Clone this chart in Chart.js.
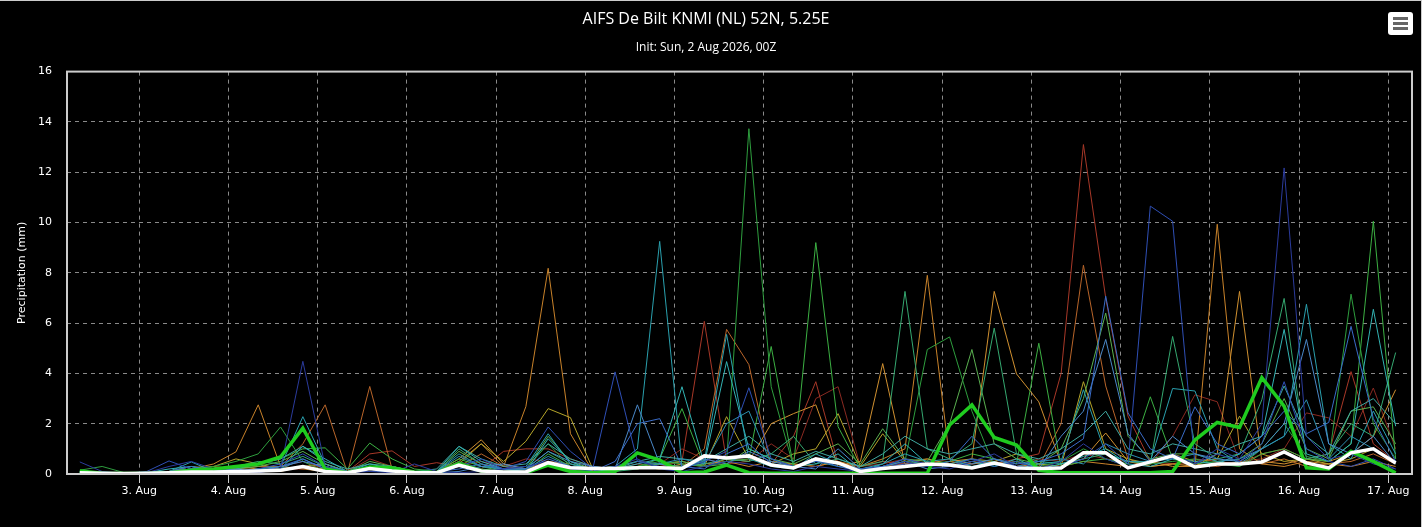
<!DOCTYPE html>
<html>
<head>
<meta charset="utf-8">
<script src="https://cdn.jsdelivr.net/npm/chart.js@4"></script>
<style>
  body { margin: 0; background: #fff; }
  #wrap { position: relative; width: 1421px; height: 526px; background: #000;
          border-top: 1px solid #ccc; border-right: 1px solid #ccc; }
  #menu { position: absolute; left: 1388px; top: 11px; width: 25px; height: 23px;
          background: #fff; border-radius: 3px; }
  #menu span { position: absolute; left: 5px; width: 15px; height: 3px; background: #666; }
</style>
</head>
<body>
<div id="wrap">
  <canvas id="precipChart" width="1421" height="526"></canvas>
  <div id="menu"><span style="top:5px"></span><span style="top:10px"></span><span style="top:15px"></span></div>
</div>
<script>
// hours since 3 Aug 00:00 local (UTC+2), 6-hourly steps
const hours = [-16,-10,-4,2,8,14,20,26,32,38,44,50,56,62,68,74,80,86,92,98,
  104,110,116,122,128,134,140,146,152,158,164,170,176,182,188,194,200,206,212,218,
  224,230,236,242,248,254,260,266,272,278,284,290,296,302,308,314,320,326,332,338];
const tickHours = [0,24,48,72,96,120,144,168,192,216,240,264,288,312,336];
const dayLabels = ["3. Aug","4. Aug","5. Aug","6. Aug","7. Aug","8. Aug","9. Aug","10. Aug",
  "11. Aug","12. Aug","13. Aug","14. Aug","15. Aug","16. Aug","17. Aug"];
const yTicks = [0,2,4,6,8,10,12,14,16];

// ensemble members (mm / 6h)
const m01 = [0.48,0.1,0.02,0.05,0.3,0.5,0.2,0.1,0.05,0.2, 4.48,0.3,0.05,0.1,0.05,0.4,0.1,0.05,0.1,0.2,
  0.3,0.5,0.2,0.1,0.3,0.6,0.2,0.1,0.3,0.5, 0.4,0.2,0.1,0.3,0.2,0.1,0.2,0.5,0.3,0.2,
  0.5,0.8,0.3,0.2,0.5,1.2,0.6,0.3,0.5,0.8, 0.4,1.0,0.6,2.0,12.17,1.5,0.6,0.8,0.4,0.2];
const m02 = [0.02,0.02,0.02,0.1,0.52,0.2,0.05,0.1,0.2,0.4, 0.8,0.3,0.1,0.2,0.3,0.1,0.05,0.3,0.6,0.2,
  0.5,1.87,0.9,0.2,4.06,0.5,0.3,0.2,0.5,0.9, 3.43,0.6,0.3,0.5,0.4,0.2,0.3,0.6,0.4,0.3,
  0.6,0.3,0.5,0.2,0.3,0.6,1.2,0.4,10.65,10.05, 0.4,0.8,0.5,1.2,3.67,1.0,0.5,0.3,0.6,0.2];
const m03 = [0.05,0.05,0.02,0.05,0.1,0.3,0.1,0.05,0.1,0.3, 0.6,0.2,0.1,0.1,0.2,0.05,0.1,0.2,0.4,0.2,
  0.2,0.6,0.3,0.1,0.5,2.0,2.2,0.3,0.2,0.8, 1.2,0.4,0.2,0.6,0.3,0.1,0.2,0.4,0.3,0.5,
  1.5,0.6,0.4,0.5,0.8,1.4,7.07,2.43,1.0,0.6, 2.67,1.2,0.8,1.5,2.5,1.6,2.05,5.87,2.2,0.5];
const m04 = [0.1,0.05,0.02,0.02,0.05,0.2,0.1,0.2,0.1,0.3, 0.5,0.3,0.1,0.1,0.1,0.1,0.05,0.1,0.3,0.4,
  0.2,0.9,0.5,0.3,0.2,2.75,0.4,0.2,0.6,0.4, 0.9,0.5,0.3,0.2,1.0,0.2,0.3,0.5,0.2,0.3,
  0.4,0.6,0.3,0.2,1.5,2.5,5.35,1.6,0.5,1.5, 0.8,0.6,0.5,1.0,2.0,5.35,1.2,0.8,1.5,0.4];
const m05 = [0.05,0.05,0.02,0.05,0.1,0.48,0.1,0.1,0.2,0.3, 2.28,0.4,0.1,0.3,0.2,0.1,0.1,0.8,0.3,0.2,
  0.3,1.6,0.4,0.2,0.3,1.0,9.25,0.3,0.5,5.55, 0.6,0.3,0.2,0.8,0.4,0.2,0.4,0.8,0.5,0.6,
  0.3,0.5,0.2,0.4,0.5,3.35,0.8,0.5,0.5,3.4, 3.3,1.0,0.4,1.0,1.5,6.75,1.2,0.6,2.5,0.8];
const m06 = [0.02,0.02,0.02,0.05,0.2,0.3,0.1,0.1,0.1,0.2, 1.1,0.6,0.1,0.4,0.2,0.1,0.1,1.1,0.5,0.2,
  0.1,1.4,0.5,0.1,0.2,0.4,0.6,3.47,0.4,4.47, 1.0,0.6,0.3,0.4,0.8,0.1,0.4,1.2,0.4,0.3,
  0.5,0.3,0.6,0.2,0.4,0.7,1.0,0.4,0.3,0.6, 0.5,0.4,0.8,1.5,5.75,0.8,0.5,1.2,6.55,1.9];
const m07 = [0.15,0.3,0.05,0.02,0.05,0.2,0.3,0.5,0.8,1.87, 0.5,0.1,0.05,0.2,0.1,0.05,0.1,0.5,0.2,0.1,
  0.2,1.2,0.3,0.1,0.2,0.3,0.5,0.4,0.3,0.5, 13.73,3.47,0.3,0.5,0.4,0.2,0.3,0.5,4.95,5.45,
  2.5,0.3,0.5,0.3,0.5,1.0,0.6,0.3,0.4,0.5, 0.6,0.4,0.3,1.0,2.0,0.7,0.5,7.15,2.0,0.6];
const m08 = [0.02,0.02,0.02,0.02,0.1,0.2,0.1,0.3,0.4,0.6, 1.0,1.04,0.2,1.23,0.6,0.2,0.1,0.6,0.3,0.1,
  0.1,0.8,0.3,0.1,0.2,0.3,0.6,2.6,0.3,0.5, 0.6,5.07,0.3,9.2,1.88,0.2,0.3,0.5,0.4,0.5,
  0.8,0.6,0.4,5.2,0.3,0.5,0.6,0.4,3.07,0.6, 0.4,0.5,0.3,0.8,1.0,0.6,0.5,1.2,10.05,0.6];
const m09 = [0.05,0.05,0.02,0.02,0.05,0.1,0.2,0.3,0.5,0.4, 0.7,0.3,0.1,0.3,0.2,0.1,0.05,1.0,0.4,0.1,
  0.2,0.9,0.4,0.1,0.1,0.2,0.4,0.3,0.4,0.6, 0.5,0.8,1.5,0.4,0.6,0.3,0.5,7.26,1.0,0.6,
  1.2,5.8,0.8,0.5,0.4,0.6,0.8,0.5,0.4,5.47, 1.2,0.6,0.8,2.95,6.98,0.6,0.8,2.0,1.5,4.83];
const m10 = [0.1,0.05,0.02,0.02,0.1,0.3,0.2,0.2,0.3,0.5, 0.9,0.4,0.1,0.5,0.3,0.1,0.1,0.9,0.4,0.2,
  0.2,1.5,0.5,0.2,0.1,0.3,0.4,0.5,0.3,0.4, 1.0,0.6,0.4,0.8,1.2,0.4,1.8,0.6,0.5,2.0,
  4.95,1.2,0.6,0.4,1.0,3.0,6.4,1.5,0.6,0.8, 0.8,0.5,0.6,1.2,3.0,1.0,0.6,2.5,2.67,1.2];
const m12 = [0.02,0.02,0.02,0.05,0.1,0.2,0.4,0.88,2.75,0.3, 0.2,0.1,0.05,0.3,0.2,0.1,0.1,0.5,1.2,0.3,
  2.68,8.18,1.6,0.1,0.2,0.3,0.2,0.3,0.4,0.5, 0.3,0.5,0.4,0.3,0.5,0.3,0.6,1.0,7.9,0.6,
  0.4,0.5,0.3,0.4,0.3,0.5,0.4,0.3,0.5,0.3, 0.3,9.93,1.0,0.4,0.3,0.5,0.4,0.3,0.5,0.3];
const m13 = [0.02,0.02,0.02,0.02,0.1,0.2,0.3,0.2,0.3,0.3, 1.2,2.75,0.05,3.48,0.2,0.1,0.05,0.3,0.8,0.3,
  0.2,0.5,0.4,0.2,0.3,0.2,0.4,0.3,1.0,5.75, 4.35,0.3,0.4,0.3,0.5,0.2,0.3,0.4,0.3,0.5,
  0.3,0.4,0.5,0.3,2.0,8.3,3.5,0.6,0.3,0.4, 0.4,0.3,0.5,0.4,0.6,0.3,0.4,0.5,0.8,0.4];
const m14 = [0.02,0.02,0.02,0.05,0.1,0.1,0.2,0.3,0.2,0.1, 0.3,0.4,0.1,0.2,0.2,0.05,0.1,0.6,1.36,0.4,
  0.2,0.3,0.2,0.1,0.2,0.3,0.2,0.4,0.3,0.6, 0.5,2.0,2.4,2.75,0.3,0.5,4.39,0.4,0.3,0.5,
  0.6,7.26,3.98,2.87,0.4,0.6,1.63,0.5,0.3,0.4, 0.3,0.8,7.26,0.5,0.4,0.6,0.5,0.8,1.5,3.35];
const m15 = [0.02,0.02,0.02,0.05,0.05,0.2,0.3,0.6,0.4,0.2, 0.3,0.2,0.05,0.2,0.3,0.1,0.1,0.4,1.2,0.5,
  1.3,2.6,2.24,0.2,0.3,0.2,0.4,0.5,0.3,2.28, 0.6,0.4,0.8,1.0,2.4,0.3,1.6,0.5,0.6,0.4,
  0.6,0.5,0.8,0.4,0.3,3.67,1.0,0.6,0.4,0.8, 0.5,0.6,2.3,0.8,0.5,0.6,0.4,0.6,1.0,0.4];
const m16 = [0.02,0.02,0.02,0.05,0.1,0.3,0.2,0.2,0.3,0.2, 0.2,0.4,0.1,0.8,0.92,0.3,0.45,0.3,0.2,0.9,
  1.0,1.0,0.6,0.3,0.2,0.4,0.3,0.5,6.07,0.5, 0.6,0.4,1.5,3.67,0.4,0.3,0.5,0.4,0.6,0.3,
  0.5,0.4,0.6,0.8,4.0,13.1,7.0,2.3,0.5,0.4, 0.6,0.5,0.4,0.8,1.0,0.6,0.8,4.07,1.2,0.5];
const m17 = [0.02,0.02,0.02,0.02,0.05,0.1,0.2,0.1,0.2,0.3, 0.5,0.2,0.1,0.6,0.3,0.1,0.1,0.3,0.5,0.3,
  0.6,0.5,0.3,0.2,0.3,0.5,0.4,1.0,0.6,0.4, 0.5,1.2,0.6,3.0,3.47,0.3,0.4,0.6,0.4,0.6,
  0.4,0.5,0.3,0.6,0.5,0.8,0.6,0.5,0.4,1.5, 3.15,2.87,0.5,0.6,1.0,2.43,2.23,1.5,3.42,1.0];
const m18 = [0.05,0.05,0.05,0.05,0.1,0.2,0.1,0.2,0.4,0.6, 1.1,0.5,0.2,0.4,0.3,0.1,0.2,1.1,0.6,0.3,
  0.4,1.2,0.6,0.3,0.2,0.5,0.7,0.6,0.5,1.0, 1.5,0.8,0.5,0.9,0.6,0.3,0.8,1.5,1.0,0.8,
  1.0,1.2,0.8,0.6,1.0,1.6,2.5,1.0,0.8,1.2, 1.0,0.8,1.2,1.5,3.5,1.5,0.8,2.5,3.0,2.0];
const m19 = [0.02,0.02,0.02,0.02,0.05,0.1,0.05,0.1,0.2,0.2, 0.6,0.2,0.1,0.2,0.1,0.05,0.1,0.7,0.3,0.2,
  0.2,0.7,0.3,0.2,0.3,0.5,0.4,0.6,0.4,2.0, 2.5,0.4,0.3,0.5,0.3,0.2,0.3,0.6,0.3,0.4,
  0.6,0.4,0.3,0.5,0.6,0.4,1.2,0.8,0.5,0.6, 0.8,0.5,0.6,1.0,1.5,2.95,0.6,1.5,1.0,0.5];

// control run (thick green) and ensemble mean (thick white)
const control = [0.12,0.03,0.02,0.02,0.05,0.15,0.2,0.3,0.4,0.68, 1.82,0.2,0.05,0.28,0.25,0.08,0.05,0.4,0.12,0.05,
  0.05,0.35,0.1,0.05,0.1,0.84,0.55,0.05,0.08,0.35, 0.05,0.03,0.03,0.03,0.03,0.03,0.03,0.03,0.03,1.95,
  2.75,1.45,1.15,0.15,0.05,0.05,0.05,0.05,0.05,0.1, 1.35,2.05,1.85,3.83,2.7,0.25,0.2,0.9,0.5,0.05];
const mean = [0.05,0.03,0.02,0.03,0.05,0.08,0.08,0.1,0.12,0.15, 0.3,0.1,0.05,0.22,0.12,0.06,0.05,0.35,0.12,0.08,
  0.08,0.45,0.25,0.22,0.22,0.25,0.25,0.22,0.72,0.64, 0.72,0.36,0.24,0.6,0.44,0.1,0.22,0.3,0.4,0.36,
  0.24,0.44,0.24,0.22,0.24,0.84,0.84,0.24,0.48,0.72, 0.28,0.4,0.4,0.48,0.88,0.44,0.24,0.84,1.0,0.44];

const members = [
  { data: m01, color: "#2b3b9c" }, { data: m02, color: "#2f4fb5" }, { data: m03, color: "#3a6cc8" },
  { data: m04, color: "#4a88c8" }, { data: m19, color: "#2d8fb0" }, { data: m05, color: "#2aa0ae" },
  { data: m06, color: "#33b3b3" }, { data: m18, color: "#3fa8a0" }, { data: m09, color: "#35a870" },
  { data: m07, color: "#2e9e3e" }, { data: m08, color: "#3cb043" }, { data: m10, color: "#5ab050" },
  { data: m15, color: "#b5a52a" }, { data: m14, color: "#d09030" }, { data: m12, color: "#c8822a" },
  { data: m13, color: "#b8652a" }, { data: m16, color: "#a83828" }, { data: m17, color: "#8a2a22" },
];

const toPoints = vals => vals.map((v, i) => ({ x: hours[i], y: v }));

// lower order = drawn on top, so mean and control sit above the members
const datasets = members.map((m, i) => ({
  label: "Member " + (i + 1), data: toPoints(m.data), borderColor: m.color,
  borderWidth: 1, pointRadius: 0, tension: 0, order: 2,
}));
datasets.push({ label: "Control", data: toPoints(control), borderColor: "#1fcc1f", borderWidth: 3.5, pointRadius: 0, tension: 0, order: 1 });
datasets.push({ label: "Mean", data: toPoints(mean), borderColor: "#ffffff", borderWidth: 3.5, pointRadius: 0, tension: 0, order: 0 });

const framePlugin = {
  id: "frame",
  afterDatasetsDraw(chart) {
    const { ctx, chartArea: a } = chart;
    ctx.save();
    ctx.strokeStyle = "#cccccc";
    ctx.lineWidth = 2;
    ctx.strokeRect(a.left, a.top, a.right - a.left, a.bottom - a.top);
    ctx.restore();
  }
};

const font = "'DejaVu Sans', Verdana, sans-serif";
const titleFont = "'Open Sans', 'DejaVu Sans', sans-serif";

new Chart(document.getElementById("precipChart").getContext("2d"), {
  type: "line",
  data: { datasets },
  options: {
    responsive: false,
    animation: false,
    layout: { padding: { right: 9 } },
    plugins: {
      legend: { display: false },
      tooltip: { enabled: false },
      title: { display: true, text: "AIFS De Bilt KNMI (NL) 52N, 5.25E", color: "#ffffff",
        font: { size: 16, family: titleFont, weight: "normal" },
        padding: { top: 9, bottom: 11 } },
      subtitle: { display: true, text: "Init: Sun, 2 Aug 2026, 00Z", color: "#ffffff",
        font: { size: 12, family: titleFont },
        padding: { top: 0, bottom: 17 } },
    },
    scales: {
      x: {
        type: "linear", min: -19.45, max: 342.4,
        afterBuildTicks: s => { s.ticks = tickHours.map(v => ({ value: v })); },
        afterFit: s => { s.height = 53; },
        ticks: { color: "#ffffff", font: { size: 11, family: font }, autoSkip: false, maxRotation: 0, padding: 2,
          callback: (v, i) => dayLabels[i] },
        grid: { color: "#8a8a8a", lineWidth: 1, tickLength: 9, tickColor: "#cccccc", tickBorderDash: [] },
        border: { display: false, dash: [4, 4] },
        title: { display: true, text: "Local time (UTC+2)", color: "#ffffff", font: { size: 11, family: font }, padding: { top: 0, bottom: 11 } },
      },
      y: {
        min: 0, max: 16,
        afterBuildTicks: s => { s.ticks = yTicks.map(v => ({ value: v })); },
        afterFit: s => { s.width = 67; },
        ticks: { color: "#ffffff", font: { size: 11, family: font }, padding: 15 },
        grid: { color: "#8a8a8a", lineWidth: 1, drawTicks: false },
        border: { display: false, dash: [4, 4] },
        title: { display: true, text: "Precipitation (mm)", color: "#ffffff", font: { size: 11, family: font }, padding: { top: 16 } },
      },
    },
  },
  plugins: [framePlugin],
});
</script>
</body>
</html>
